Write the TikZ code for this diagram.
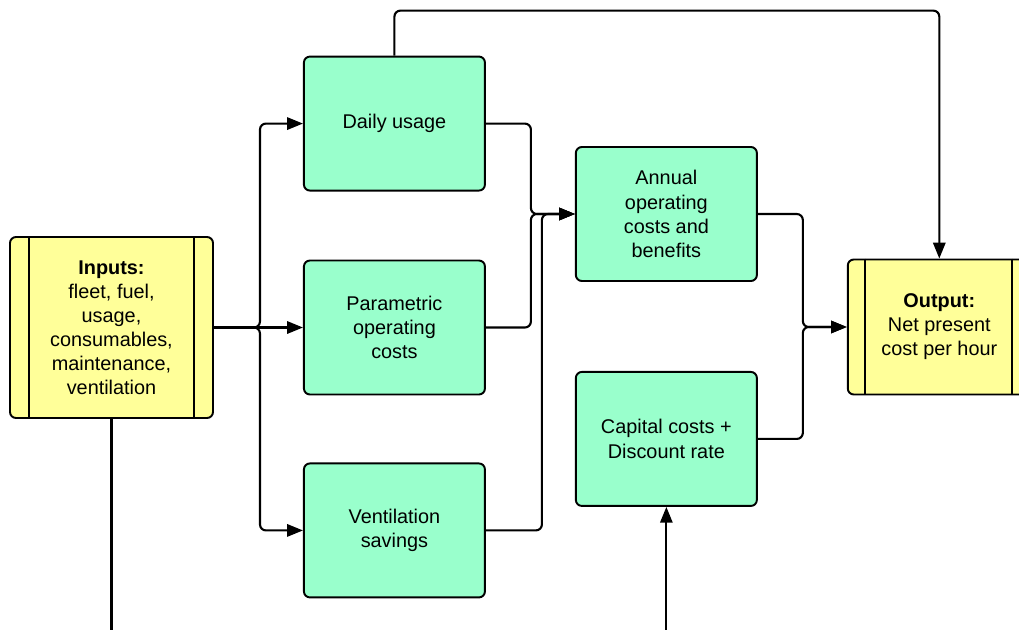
\documentclass[tikz,border=0pt]{standalone}
\usepackage{fontspec}
\setmainfont{Liberation Sans}
\usepackage{xcolor}
\usepackage{tikz}
\usetikzlibrary{positioning, arrows.meta}
\definecolor{boxgreen}{HTML}{99FFCC}
\definecolor{boxyellow}{HTML}{FFFF99}
\tikzstyle{procbox} = [rectangle, rounded corners=0.12cm, minimum width=3.62cm, minimum height=2.68cm, inner sep=0pt, align=center, draw=black, line width=1.1pt, fill=boxgreen]
\tikzstyle{inbox} = [rectangle, rounded corners=0.12cm, minimum width=4.06cm, minimum height=3.62cm, inner sep=0pt, align=center, draw=black, line width=1.1pt, fill=boxyellow]
\tikzstyle{outbox} = [rectangle, rounded corners=0.12cm, minimum width=3.66cm, minimum height=2.7cm, inner sep=0pt, align=center, draw=black, line width=1.1pt, fill=boxyellow]
\tikzstyle{arrow} = [line width=1.2pt, rounded corners=0.12cm, -{Triangle[length=9pt,width=7pt]}]
\tikzstyle{conn} = [line width=1.2pt, rounded corners=0.12cm]

\begin{document}
\begin{tikzpicture}[font=\fontsize{11.3}{13.7}\selectfont]
		\useasboundingbox (-2.23,-6.03) rectangle (18.15,6.55);
		\node (inputs) [inbox] at (0,0) {\textbf{Inputs:}\\fleet, fuel,\\usage,\\consumables,\\maintenance,\\ventilation};
		\node (param) [procbox,right=1.78cm of inputs] {Parametric\\operating\\costs};
		\node (daily) [procbox,above=1.36cm of param] {Daily usage};
		\node (vent) [procbox,below=1.34cm of param] {Ventilation\\savings};
		\node (annual) [procbox,right=1.78cm of param,yshift=2.27cm] {Annual\\operating\\costs and\\benefits};
		\node (capital) [procbox,below=1.78cm of annual] {Capital costs +\\Discount rate};
		\node (output) [outbox,right=1.78cm of annual,yshift=-2.26cm] {\textbf{Output:}\\Net present\\cost per hour};
		\draw [conn] ([xshift=0.4cm]inputs.north west) -- ([xshift=0.4cm]inputs.south west);
		\draw [conn] ([xshift=-0.4cm]inputs.north east) -- ([xshift=-0.4cm]inputs.south east);
		\draw [conn] ([xshift=0.36cm]output.north west) -- ([xshift=0.36cm]output.south west);
		\draw [conn] ([xshift=-0.4cm]output.north east) -- ([xshift=-0.4cm]output.south east);
		\coordinate (inend) at ([yshift=-4.5cm]inputs.south);
		\coordinate (capstart) at ([yshift=-2.6cm]capital.south);
		\draw [arrow] (inputs.east) -- ++(0.92,0) |- (daily.west);
		\draw [arrow] (inputs.east) -- (param.west);
		\draw [arrow] (inputs.east) -- ++(0.92,0) |- (vent.west);
		\draw [arrow] (daily.east) -- ++(0.9,0) |- (annual.west);
		\draw [arrow] (param.east) -- ++(0.9,0) |- (annual.west);
		\draw [arrow] (vent.east) -- ++(1.12,0) |- (annual.west);
		\draw [arrow] (annual.east) -- ++(0.9,0) |- (output.west);
		\draw [arrow] (capital.east) -- ++(0.9,0) |- (output.west);
		\draw [arrow] (daily.north) -- ++(0,0.9) -| (output.north);
		\draw [conn] (inputs.south) -- (inend);
		\draw [arrow] (capstart) -- (capital.south);
	\end{tikzpicture}
\end{document}
